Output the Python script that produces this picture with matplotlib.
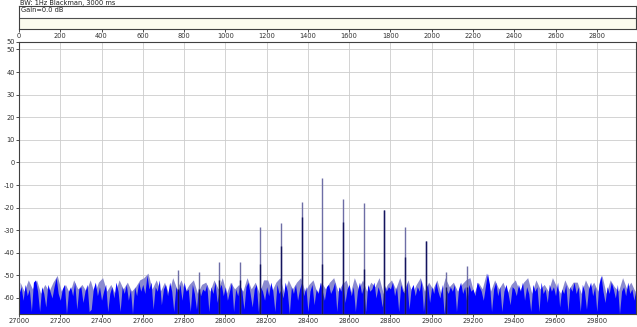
import numpy as np
import matplotlib.pyplot as plt

plt.rcParams['font.family'] = ['Liberation Sans Narrow', 'DejaVu Sans']

# live noise floor, 10 Hz bins from 27000 Hz (rough)
noise_db = [
    -58, -55, -61, -54, -59, -56, -66, -53, -52, -57, -66, -55, -58, -64, -54, -57, -60, -55, -51, -58, -61, -56, -54, -67, -57, -55, -59, -53, -65, -56,
    -55, -62, -57, -54, -66, -65, -56, -53, -59, -55, -61, -57, -54, -66, -58, -55, -60, -53, -57, -66, -55, -58, -54, -61, -56, -67, -55, -59, -53, -57,
    -54, -58, -50, -56, -53, -65, -55, -57, -52, -63, -56, -54, -59, -53, -57, -66, -55, -58, -54, -61, -53, -57, -56, -66, -54, -58, -65, -55, -59, -56,
    -57, -54, -66, -55, -58, -53, -62, -56, -54, -59, -55, -61, -57, -53, -66, -56, -59, -54, -57, -65, -55, -53, -58, -64, -56, -54, -66, -55, -57, -61,
    -55, -59, -53, -57, -66, -54, -58, -56, -60, -53, -57, -67, -55, -58, -54, -61, -56, -53, -59, -55, -66, -57, -54, -63, -56, -58, -53, -57, -61, -55,
    -54, -58, -56, -53, -66, -55, -57, -52, -62, -56, -54, -59, -55, -66, -57, -53, -58, -55, -66, -54, -57, -56, -53, -60, -55, -58, -64, -54, -57, -55,
    -56, -53, -59, -55, -66, -54, -57, -58, -53, -65, -56, -54, -59, -55, -57, -52, -66, -56, -54, -62, -55, -58, -53, -57, -60, -54, -67, -56, -58, -55,
    -57, -54, -66, -56, -53, -58, -55, -62, -54, -57, -56, -59, -53, -55, -57, -61, -55, -49, -54, -66, -56, -53, -59, -55, -66, -57, -54, -58, -63, -55,
    -56, -59, -54, -57, -53, -61, -55, -58, -66, -54, -57, -55, -66, -53, -58, -56, -62, -54, -57, -55, -59, -53, -64, -56, -58, -54, -66, -55, -57, -53,
    -58, -55, -66, -54, -57, -65, -56, -53, -59, -55, -66, -54, -50, -57, -62, -55, -58, -53, -56, -60, -54, -67, -57, -55, -59, -53, -58, -56, -61, -55,
]
noise_freq = np.arange(27000, 30000, 10)

# hold trace of the noise floor, 20 Hz bins
hold_db = [
    -53, -57, -52, -56, -52, -58, -54, -57, -53, -50, -57, -54, -58, -52, -56,
    -54, -57, -52, -58, -53, -51, -57, -54, -58, -52, -56, -53, -57, -55, -52,
    -51, -49, -56, -52, -57, -53, -58, -51, -56, -52, -57, -54, -52, -58, -54,
    -53, -57, -52, -56, -51, -58, -53, -56, -54, -57, -51, -56, -53, -58, -52,
    -52, -57, -53, -51, -58, -52, -56, -53, -51, -57, -54, -52, -58, -53, -56,
    -53, -51, -57, -54, -52, -58, -51, -56, -52, -57, -53, -55, -51, -58, -54,
    -52, -56, -51, -57, -52, -58, -54, -51, -57, -53, -56, -52, -58, -51, -55,
    -53, -57, -54, -52, -51, -58, -53, -56, -49, -57, -52, -56, -53, -58, -54,
    -52, -57, -53, -51, -58, -52, -56, -54, -57, -51, -55, -58, -52, -56, -53,
    -53, -58, -52, -56, -53, -57, -50, -58, -52, -55, -57, -51, -56, -53, -57,
]
hold_freq = np.arange(27005, 30000, 20)

# spectral lines: hold trace (grey-blue) and live trace (navy)
peak_freq = [27770, 27870, 27970, 28070, 28170, 28270, 28370, 28470, 28570, 28670, 28770, 28870, 28970, 29070, 29170]
peak_db = [-47.5, -48.5, -44, -44.3, -28.7, -26.7, -17.6, -6.8, -16.3, -18.1, -20.9, -28.7, -34.7, -48.7, -45.8]
live_db = [-56, -56, -52, -52, -45, -37, -24.3, -45, -26.5, -47, -21, -42, -34.7, -55, -55]

freq_ticks = list(range(27000, 30000, 200))
time_ticks = list(range(0, 3000, 200))
db_ticks = list(range(-60, 60, 10))

W, H = 637, 327
ymin, ymax = -67.1, 53.3
fs = 4.8


def rect(x0, y0, x1, y1):
    return [x0 / W, 1 - y1 / H, (x1 - x0) / W, (y1 - y0) / H]


fig = plt.figure(figsize=(W / 100, H / 100), dpi=100)

# main spectrum
ax = fig.add_axes(rect(19, 42, 636, 314))
ax.fill_between(hold_freq, ymin, hold_db, color='#8a8ad0', lw=0, zorder=2)
ax.fill_between(noise_freq, ymin, noise_db, color='#0000ff', lw=0, zorder=2.5)
ax.vlines(peak_freq, ymin, peak_db, color='#6e6ea6', lw=1.0, zorder=3)
ax.vlines(peak_freq, ymin, live_db, color='#14145e', lw=1.0, zorder=4)
ax.set_xlim(27000, 29990)
ax.set_ylim(ymin, ymax)
ax.set_xticks(freq_ticks)
ax.set_xticklabels([str(t) for t in freq_ticks])
ax.set_yticks(db_ticks + [ymax])
ax.set_yticklabels([str(t) for t in db_ticks] + ['50'])
ax.grid(True, color='#cccccc', lw=0.6, zorder=0)
ax.set_axisbelow(True)
ax.tick_params(labelsize=fs, length=2, width=0.6, pad=1, colors='#303030')
for s in ax.spines.values():
    s.set_color('#404040')
    s.set_linewidth(0.8)

# time strip on top
axt = fig.add_axes(rect(19, 6, 636, 29))
axt.set_xlim(0, 2990)
axt.set_ylim(0, 1)
axt.axhspan(0, 11 / 23, color='#fbfbee', lw=0)
axt.axhline(11 / 23, color='#505050', lw=0.8)
axt.set_yticks([])
axt.set_xticks(time_ticks)
axt.set_xticklabels([str(t) for t in time_ticks])
axt.tick_params(labelsize=fs, length=2, width=0.6, pad=1, colors='#303030')
for s in axt.spines.values():
    s.set_color('#404040')
    s.set_linewidth(0.8)

fig.text(20 / W, 1 - 3 / H, 'BW: 1Hz Blackman, 3000 ms', fontsize=fs, va='center', ha='left', color='#202020')
fig.text(21 / W, 1 - 10 / H, 'Gain=0.0 dB', fontsize=fs, va='center', ha='left', color='#202020')

fig.savefig('out.png', dpi=100, facecolor='white')
